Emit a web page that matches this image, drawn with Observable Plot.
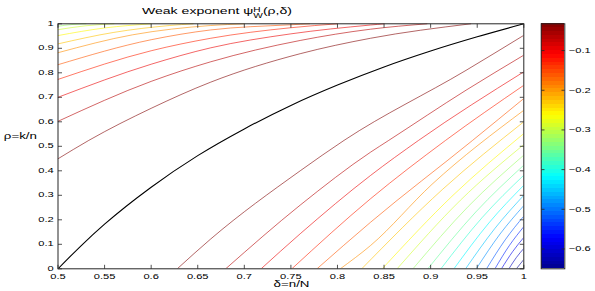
<!DOCTYPE html>
<html>
<head>
<meta charset="utf-8">
<script src="https://cdn.jsdelivr.net/npm/d3@7"></script>
<script src="https://cdn.jsdelivr.net/npm/@observablehq/plot@0.6"></script>
<style>
html,body{margin:0;padding:0;background:#fff;}
#chart{position:relative;width:595px;height:291px;overflow:hidden;}
#chart svg{position:absolute;left:0;top:0;}
</style>
</head>
<body>
<div id="chart"></div>
<script>
// ---------- data ----------
const xTicks = [0.5,0.55,0.6,0.65,0.7,0.75,0.8,0.85,0.9,0.95,1];
const yTicks = [0,0.1,0.2,0.3,0.4,0.5,0.6,0.7,0.8,0.9,1];
const cbTicks = [-0.1,-0.2,-0.3,-0.4,-0.5,-0.6];
const cbMin = -0.65, cbMax = -0.0325;

// black transition curve  [delta, rho]
const transitionCurve = [[0.5,0],[0.525,0.095],[0.55,0.182],[0.6,0.333],[0.65,0.462],[0.7,0.571],[0.75,0.667],[0.8,0.75],[0.85,0.824],[0.9,0.889],[0.95,0.947],[1,1]];

// contour levels above the transition curve
const upperLevels = [-0.0325,-0.065,-0.0975,-0.13,-0.1625,-0.195,-0.2275,-0.26,-0.2925,-0.325];
const upperCurves = [
  [[0.5,0.449],[0.533,0.524],[0.6,0.655],[0.664,0.762],[0.76,0.878],[0.8355,0.941],[0.943,1.0]],
  [[0.5,0.602],[0.6,0.765],[0.664,0.845],[0.76,0.932],[0.8355,0.978],[0.896,1.0]],
  [[0.5,0.700],[0.6,0.835],[0.664,0.902],[0.75,0.959],[0.8355,0.995],[0.85,1.0]],
  [[0.5,0.773],[0.6,0.89],[0.664,0.941],[0.75,0.984],[0.80,1.0]],
  [[0.5,0.833],[0.6,0.935],[0.664,0.975],[0.75,0.996],[0.77,1.0]],
  [[0.5,0.882],[0.58,0.955],[0.664,0.993],[0.70,1.0]],
  [[0.5,0.918],[0.56,0.965],[0.62,0.993],[0.645,1.0]],
  [[0.5,0.952],[0.55,0.983],[0.6,1.0]],
  [[0.5,0.976],[0.53,0.992],[0.56,1.0]],
  [[0.5,0.99],[0.515,0.997],[0.53,1.0]]
];

// contour levels below the transition curve
const lowerLevels = [-0.0325,-0.065,-0.0975,-0.13,-0.1625,-0.195,-0.2275,-0.26,-0.2925,-0.325,-0.3575,-0.39,-0.4225,-0.455,-0.4875,-0.52,-0.5525,-0.585,-0.6175,-0.65];
const lowerCurves = [
  [[0.628,0],[0.664,0.122],[0.76,0.40],[0.807,0.524],[0.938,0.81],[1,0.953]],
  [[0.68,0],[0.76,0.26],[0.8355,0.476],[0.855,0.524],[0.938,0.729],[1,0.872]],
  [[0.718,0],[0.76,0.143],[0.8355,0.381],[0.887,0.524],[1,0.804]],
  [[0.751,0],[0.8355,0.286],[0.916,0.524],[1,0.749]],
  [[0.778,0],[0.8355,0.19],[0.945,0.524],[1,0.695]],
  [[0.803,0],[0.8355,0.095],[0.9015,0.345],[1,0.647]],
  [[0.826,0],[0.913,0.325],[1,0.600]],
  [[0.848,0],[0.924,0.30],[1,0.552]],
  [[0.864,0],[0.932,0.28],[1,0.507]],
  [[0.881,0],[0.9405,0.255],[1,0.464]],
  [[0.897,0],[0.9485,0.232],[1,0.423]],
  [[0.911,0],[0.9555,0.21],[1,0.382]],
  [[0.925,0],[0.9625,0.187],[1,0.341]],
  [[0.9375,0],[0.969,0.165],[1,0.300]],
  [[0.949,0],[0.9745,0.142],[1,0.258]],
  [[0.960,0],[0.980,0.118],[1,0.215]],
  [[0.969,0],[0.9845,0.095],[1,0.172]],
  [[0.976,0],[0.988,0.07],[1,0.128]],
  [[0.984,0],[0.992,0.046],[1,0.083]],
  [[0.992,0],[1,0.038]]
];

// ---------- build ----------
const rows = [];
upperCurves.forEach((c, i) => c.forEach(([d, r]) => rows.push({d, r, level: upperLevels[i], id: "u" + i})));
lowerCurves.forEach((c, i) => c.forEach(([d, r]) => rows.push({d, r, level: lowerLevels[i], id: "l" + i})));

const jetT = [0, 0.125, 0.375, 0.625, 0.875, 1];
const jetC = ["#00008f", "#0000ff", "#00ffff", "#ffff00", "#ff0000", "#800000"];
const colorOpt = {type: "linear", domain: jetT.map(t => cbMin + t * (cbMax - cbMin)), range: jetC, interpolate: "rgb", clamp: true};

const W = 595, H = 291, mL = 57.5, mR = 71.7, mT = 23.3, mB = 22.7;
const FONT = "'Liberation Sans', Arial, Helvetica, sans-serif";
const AX = "#262626";
const tickShape = {draw(ctx, l) { ctx.moveTo(0, 0); ctx.lineTo(0, -l); }};
const tk = (data, opts) => Plot.vector(data, {anchor: "start", shape: tickShape, stroke: AX, strokeWidth: 0.8, fill: "none", strokeLinecap: "butt", ...opts});

const main = Plot.plot({
  width: W, height: H,
  marginLeft: mL, marginRight: mR, marginTop: mT, marginBottom: mB,
  style: {background: "transparent", fontFamily: FONT, color: "#000"},
  x: {domain: [0.5, 1], axis: null},
  y: {domain: [0, 1], axis: null},
  color: colorOpt,
  marks: [
    Plot.line(rows, {x: "d", y: "r", z: "id", stroke: "level", strokeWidth: 0.75, strokeOpacity: 0.8, curve: "monotone-x", clip: true}),
    Plot.line(transitionCurve, {x: d => d[0], y: d => d[1], stroke: "#000", strokeWidth: 1.1, curve: "monotone-x", clip: true}),
    tk(xTicks, {x: d => d, frameAnchor: "bottom", rotate: 0, length: 4}),
    tk(xTicks, {x: d => d, frameAnchor: "top", rotate: 180, length: 4}),
    tk(yTicks, {y: d => d, frameAnchor: "left", rotate: 90, length: 4}),
    tk(yTicks, {y: d => d, frameAnchor: "right", rotate: -90, length: 4}),
    Plot.frame({stroke: AX, strokeWidth: 1}),
    Plot.text(xTicks, {x: d => d, frameAnchor: "bottom", text: d => String(d), lineAnchor: "top", dy: 5, fontSize: 7.5}),
    Plot.text(yTicks, {y: d => d, frameAnchor: "left", text: d => String(d), textAnchor: "end", dx: -4.2, dy: -0.6, fontSize: 7.5}),
    Plot.text(["δ=n/N"], {frameAnchor: "bottom", text: d => d, lineAnchor: "bottom", dy: 18.2, dx: 0.6, fontSize: 8.5}),
    Plot.text(["ρ=k/n"], {frameAnchor: "left", text: d => d, textAnchor: "start", dx: -54.2, dy: -9.8, fontSize: 8.5})
  ]
});

const step = (cbMax - cbMin) / 64;
const bands = d3.range(64).map(i => ({y1: cbMin + i * step, y2: cbMin + (i + 1) * step, v: cbMin + (i + 0.5) * step}));

const cb = Plot.plot({
  width: W, height: H,
  marginLeft: 540.7, marginRight: 30.7, marginTop: mT, marginBottom: mB,
  style: {background: "transparent", fontFamily: FONT, color: "#000"},
  x: {domain: [0, 1], axis: null},
  y: {domain: [cbMin, cbMax], axis: null},
  color: colorOpt,
  marks: [
    Plot.rect(bands, {x1: 0, x2: 1, y1: "y1", y2: "y2", fill: "v", shapeRendering: "crispEdges"}),
    tk(cbTicks, {y: d => d, frameAnchor: "left", rotate: 90, length: 3.3}),
    tk(cbTicks, {y: d => d, frameAnchor: "right", rotate: -90, length: 3.3}),
    Plot.frame({stroke: AX, strokeWidth: 1}),
    Plot.text(cbTicks, {y: d => d, frameAnchor: "right", textAnchor: "start", dx: 4, text: d => "\u2212" + Math.abs(d), fontSize: 7.5})
  ]
});

// stretch glyphs horizontally like the reference
function stretch(svg) {
  svg.querySelectorAll("text").forEach(t => {
    const g = t.closest("g[font-size]");
    const fs = g ? +g.getAttribute("font-size") : 7.5;
    const sx = fs > 8 ? 1.57 : 1.48;
    t.setAttribute("transform", (t.getAttribute("transform") || "") + ` scale(${sx},1)`);
  });
}
stretch(main);
stretch(cb);

// title with sub/superscript
const title = d3.select(main).append("text")
  .attr("transform", "translate(217,14.3) scale(1.45,1)")
  .attr("font-size", 9.7).attr("font-family", FONT).attr("fill", "#000");
title.append("tspan").text("Weak exponent \u03c8");
title.append("tspan").attr("font-size", 7).attr("dy", -2.8).text("H");
title.append("tspan").attr("font-size", 7).attr("dx", -5.05).attr("dy", 6.6).text("W");
title.append("tspan").attr("dy", -3.8).text("(\u03c1,\u03b4)");

document.getElementById("chart").append(main, cb);
</script>
</body>
</html>
